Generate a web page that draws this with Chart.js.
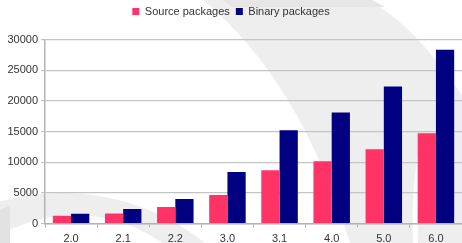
<!DOCTYPE html>
<html>
<head>
<meta charset="utf-8">
<script src="https://cdn.jsdelivr.net/npm/chart.js@4/dist/chart.umd.min.js"></script>
<style>
  html, body { margin: 0; padding: 0; background: #fff; }
  #chart { display: block; }
</style>
</head>
<body>
<canvas id="chart" width="462" height="243"></canvas>
<script>
// debian releases, package counts
var releases = ["2.0", "2.1", "2.2", "3.0", "3.1", "4.0", "5.0", "6.0"];
var sourcePackages = [1250, 1620, 2700, 4650, 8700, 10160, 12110, 14710];
var binaryPackages = [1570, 2380, 4000, 8380, 15190, 18110, 22330, 28330];
var yTicks = [0, 5000, 10000, 15000, 20000, 25000, 30000];

// grey swirl watermark behind the chart
var swirl = {
    id: "swirl",
    afterInit: function(c){
        // more room under the legend
        var fit = c.legend.fit;
        c.legend.fit = function(){ fit.call(this); this.height += 12.5; };
    },
    beforeDraw: function(c){
        var ctx = c.ctx;
        ctx.save();
        ctx.fillStyle = "#fff";
        ctx.fillRect(0, 0, c.width, c.height);

        // big band top -> bottom right
        ctx.fillStyle = "#eeeeee";
        ctx.beginPath();
        ctx.moveTo(203, 0);
        ctx.quadraticCurveTo(300, 80, 350, 243);
        ctx.lineTo(462, 243);
        ctx.lineTo(462, 95);
        ctx.quadraticCurveTo(410, 20, 367, 0);
        ctx.closePath();
        ctx.fill();

        // darker strip on top
        ctx.fillStyle = "#e6e6e6";
        ctx.beginPath();
        ctx.moveTo(222, 0);
        ctx.lineTo(372, 0);
        ctx.lineTo(385, 7);
        ctx.lineTo(232, 7);
        ctx.closePath();
        ctx.fill();

        // white sliver in the band
        ctx.fillStyle = "#fff";
        ctx.beginPath();
        ctx.moveTo(419, 148);
        ctx.quadraticCurveTo(411, 190, 413, 243);
        ctx.lineTo(418, 243);
        ctx.quadraticCurveTo(416, 195, 421, 152);
        ctx.closePath();
        ctx.fill();

        // lower left arc
        ctx.fillStyle = "#eeeeee";
        ctx.beginPath();
        ctx.arc(62, 423, 230, Math.PI * 1.2, Math.PI * 1.75);
        ctx.arc(75, 365, 150, Math.PI * 1.75, Math.PI * 1.1, true);
        ctx.closePath();
        ctx.fill();

        ctx.fillStyle = "#e2e2e2";
        ctx.beginPath();
        ctx.moveTo(0, 210);
        ctx.lineTo(10, 205);
        ctx.lineTo(10, 243);
        ctx.lineTo(0, 243);
        ctx.closePath();
        ctx.fill();
        ctx.restore();
    }
};

var font = { family: "'Liberation Sans', Arial, sans-serif", size: 11 };

var chart = new Chart(document.getElementById("chart"), {
    type: "bar",
    data: {
        labels: releases,
        datasets: [
            { label: "Source packages", data: sourcePackages, backgroundColor: "#ff3366" },
            { label: "Binary packages", data: binaryPackages, backgroundColor: "#000080" }
        ]
    },
    options: {
        responsive: false,
        animation: false,
        datasets: { bar: { categoryPercentage: 0.7, barPercentage: 1.0 } },
        layout: { padding: { top: 0, right: 0, left: 0, bottom: 0 } },
        plugins: {
            tooltip: { enabled: false },
            legend: {
                position: "top",
                labels: { font: font, color: "#333", boxWidth: 7, boxHeight: 7, padding: 6 }
            }
        },
        scales: {
            x: {
                grid: { offset: true, drawOnChartArea: false, tickLength: 4, color: "#b3b3b3" },
                border: { color: "#b3b3b3", width: 1.5 },
                ticks: { font: font, color: "#333", padding: 5 },
                afterFit: function(s){ s.height = 19.5; }
            },
            y: {
                min: 0,
                max: 30000,
                afterBuildTicks: function(s){ s.ticks = yTicks.map(function(v){ return { value: v }; }); },
                grid: { color: "#c4c4c4", tickLength: 4, lineWidth: 1.2 },
                border: { color: "#b3b3b3", width: 1.5 },
                ticks: { font: font, color: "#333", padding: 3, callback: function(v){ return String(v); } },
                afterFit: function(s){ s.width = 45; }
            }
        }
    },
    plugins: [swirl]
});
</script>
</body>
</html>
